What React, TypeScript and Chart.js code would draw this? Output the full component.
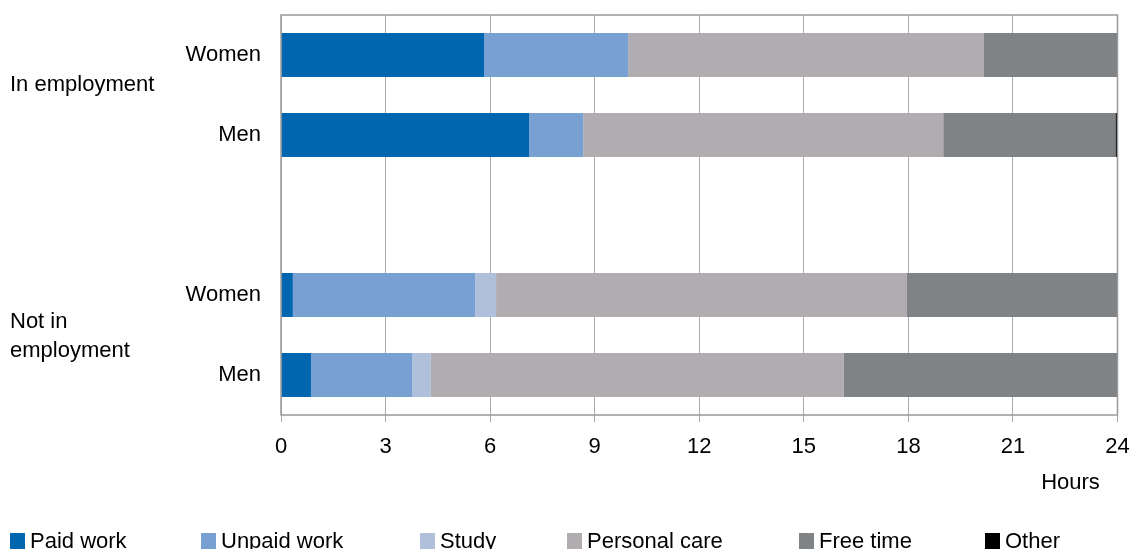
import React, { useEffect, useRef } from "react";
import { Chart, registerables } from "chart.js";

Chart.register(...registerables);

const categories = ["Women", "Men", "", "Women", "Men"];
const groupLabels = [["In employment"], ["Not in", "employment"]];
const xTicks = [0, 3, 6, 9, 12, 15, 18, 21, 24];

const paidWork = [5.83, 7.12, null, 0.34, 0.86];
const unpaidWork = [4.13, 1.55, null, 5.23, 2.9];
const study = [0, 0, null, 0.6, 0.54];
const personalCare = [10.21, 10.33, null, 11.79, 11.85];
const freeTime = [3.83, 4.94, null, 6.04, 7.85];
const other = [0, 0.07, null, 0, 0];

const seriesNames = ["Paid work", "Unpaid work", "Study", "Personal care", "Free time", "Other"];
const seriesColors = ["#0066b0", "#78a0d2", "#b0c0da", "#b1acb0", "#7f8385", "#000000"];
const legendX = [10, 201, 420, 567, 799, 985];

const FONT = "'Liberation Sans', Arial, sans-serif";

export default function App() {
  const ref = useRef<HTMLCanvasElement | null>(null);

  useEffect(() => {
    if (!ref.current) return;
    const values = [paidWork, unpaidWork, study, personalCare, freeTime, other];
    const extras = {
      id: "extras",
      afterDraw(chart: any) {
        const ctx = chart.ctx as CanvasRenderingContext2D;
        const a = chart.chartArea;
        ctx.save();
        // box
        ctx.strokeStyle = "#999999";
        ctx.lineWidth = 1.5;
        ctx.strokeRect(a.left, a.top, a.right - a.left, a.bottom - a.top);
        ctx.fillStyle = "#000";
        ctx.font = `22px ${FONT}`;
        ctx.textBaseline = "middle";
        ctx.textAlign = "left";
        // group labels
        ctx.fillText(groupLabels[0][0], 10, a.top + 70);
        ctx.fillText(groupLabels[1][0], 10, a.top + 307);
        ctx.fillText(groupLabels[1][1], 10, a.top + 336);
        // Hours
        ctx.textAlign = "center";
        ctx.fillText("Hours", a.right - 47, a.bottom + 68);
        // legend
        ctx.textAlign = "left";
        ctx.textBaseline = "alphabetic";
        chart.data.datasets.forEach((ds: any, i: number) => {
          ctx.fillStyle = ds.backgroundColor;
          ctx.fillRect(legendX[i], 533, 15, 16);
          ctx.fillStyle = "#000";
          ctx.fillText(ds.label, legendX[i] + 20, 548);
        });
        ctx.restore();
      },
    };

    const chart = new Chart(ref.current, {
      type: "bar",
      data: {
        labels: categories,
        datasets: seriesNames.map((name, i) => ({
          label: name,
          data: values[i] as any,
          backgroundColor: seriesColors[i],
          borderWidth: 0,
          categoryPercentage: 1,
          barPercentage: 0.55,
        })),
      },
      options: {
        indexAxis: "y",
        animation: false,
        responsive: false,
        maintainAspectRatio: false,
        layout: { padding: { top: 15, right: 14.5, left: 0, bottom: 0 } },
        plugins: { legend: { display: false }, tooltip: { enabled: false } },
        scales: {
          x: {
            stacked: true,
            min: 0,
            max: 24,
            afterBuildTicks: (axis: any) => {
              axis.ticks = xTicks.map((v) => ({ value: v }));
            },
            afterFit: (axis: any) => {
              axis.height = 134;
              axis.paddingLeft = 0;
              axis.paddingRight = 0;
            },
            grid: { color: "#aaaaaa", lineWidth: 1, tickLength: 7, tickColor: "#aaaaaa" },
            border: { display: false },
            ticks: { color: "#000", font: { size: 22, family: FONT }, padding: 12, maxRotation: 0 },
          },
          y: {
            stacked: true,
            afterFit: (axis: any) => {
              axis.width = 281;
              axis.paddingTop = 0;
              axis.paddingBottom = 0;
            },
            grid: { display: false, drawTicks: false },
            border: { display: false },
            ticks: { color: "#000", font: { size: 22, family: FONT }, padding: 20 },
          },
        },
      },
      plugins: [extras],
    });
    return () => chart.destroy();
  }, []);

  return (
    <div style={{ position: "absolute", left: 0, top: 0, width: 1132, height: 549, background: "#fff" }}>
      <canvas ref={ref} width={1132} height={549} style={{ display: "block" }} />
    </div>
  );
}
